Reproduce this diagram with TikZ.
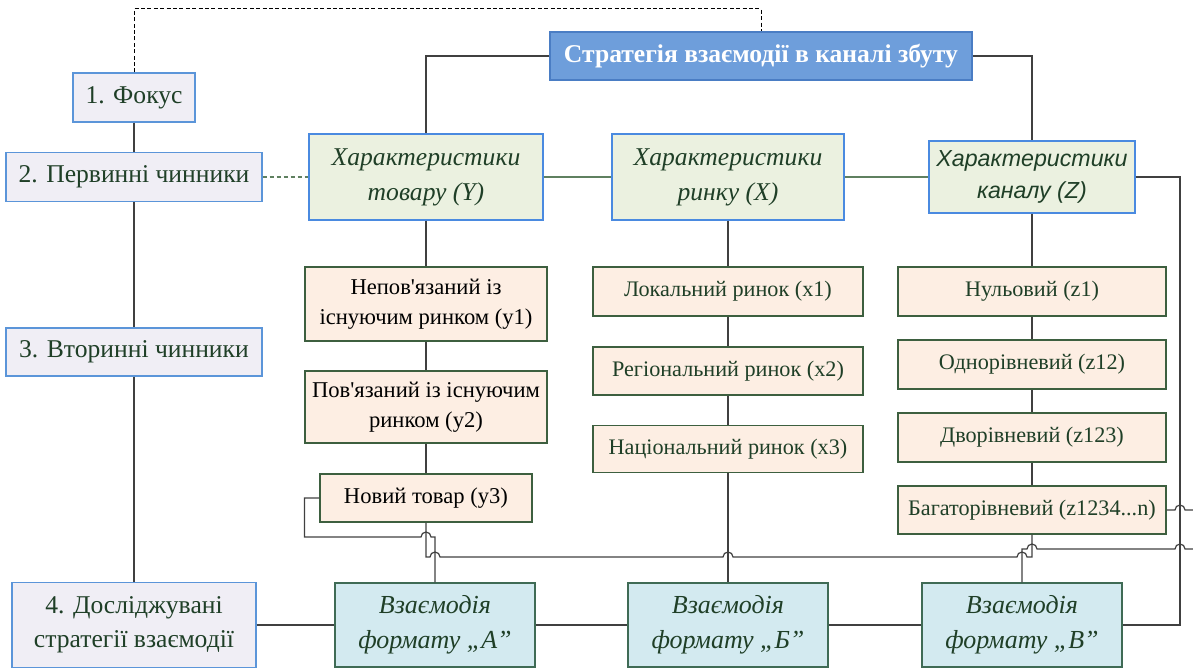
\documentclass[tikz,border=0pt]{standalone}
\usepackage{fontspec}
\setmainfont{Liberation Serif}
\newfontfamily\chanfont{Liberation Sans}
\usetikzlibrary{positioning}
\definecolor{titlefill}{HTML}{6E9EDB}
\definecolor{titledraw}{HTML}{4A7DC4}
\definecolor{lvlfill}{HTML}{F0EEF5}
\definecolor{lvldraw}{HTML}{5B95D9}
\definecolor{charfill}{HTML}{EBF1E0}
\definecolor{chardraw}{HTML}{4A8AE0}
\definecolor{subfill}{HTML}{FDEEE3}
\definecolor{subdraw}{HTML}{3D5F3F}
\definecolor{stratfill}{HTML}{D3EAF0}
\definecolor{stratdraw}{HTML}{3F6B55}
\definecolor{txtgreen}{HTML}{1F3F27}
\definecolor{linegray}{HTML}{404040}
\definecolor{linegreen}{HTML}{5F8060}

\begin{document}
\begin{tikzpicture}[x=0.5pt,y=-0.5pt,
  box/.style={draw, line width=0.6pt, align=center, inner sep=1pt, text=txtgreen},
  topbox/.style={box, draw=titledraw, fill=titlefill, text=white, font=\fontsize{12.8}{15}\selectfont\bfseries},
  lvlbox/.style={box, draw=lvldraw, fill=lvlfill, font=\fontsize{12.8}{17}\selectfont},
  charbox/.style={box, draw=chardraw, fill=charfill, font=\fontsize{12.8}{17.5}\selectfont\itshape},
  subbox/.style={box, draw=subdraw, fill=subfill, font=\fontsize{11.1}{15}\selectfont},
  stratbox/.style={box, draw=stratdraw, fill=stratfill, font=\fontsize{13}{17.5}\selectfont\itshape},
  link/.style={draw=linegray, line width=0.6pt},
  greenlink/.style={draw=linegreen, line width=0.6pt},
  greendash/.style={greenlink, dashed, dash pattern=on 2pt off 1.5pt},
  dashline/.style={draw=black, line width=0.5pt, dashed, dash pattern=on 2pt off 1.2pt}]
\useasboundingbox (0,0) rectangle (1193,668);

% title and levels
\node[topbox, minimum width=211pt, minimum height=24pt] (title) at (761,56) {Стратегія взаємодії в каналі збуту};
\node[lvlbox, minimum width=61pt, minimum height=24.5pt] (focus) at (134,97.5) {1. Фокус};
\node[lvlbox, minimum width=128pt, minimum height=24.5pt] (prim) at (134,177) {2. Первинні чинники};
\node[lvlbox, minimum width=128pt, minimum height=24pt] (sec) at (134,352) {3. Вторинні чинники};
\node[lvlbox, minimum width=122pt, minimum height=42.5pt] (study) at (134,625) {4. Досліджувані\\стратегії взаємодії};

% primary factors
\node[charbox, minimum width=117pt, minimum height=43pt] (prod) at (426,177) {Характеристики\\товару (Y)};
\node[charbox, minimum width=116pt, minimum height=43pt] (mkt) at (728,177) {Характеристики\\ринку (X)};
\node[charbox, minimum width=103pt, minimum height=36pt, font=\fontsize{11.6}{16}\selectfont\chanfont\itshape] (chan) at (1032,177) {Характеристики\\каналу (Z)};

% secondary factors
\node[subbox, minimum width=121pt, minimum height=37pt, text=black, font=\fontsize{11.3}{15}\selectfont] (y1) at (426,304) {Непов\textquotesingle язаний із\\існуючим ринком (y1)};
\node[subbox, minimum width=121pt, minimum height=36pt, text=black, font=\fontsize{11.3}{15}\selectfont] (y2) at (426,407) {Пов\textquotesingle язаний із існуючим\\ринком (y2)};
\node[subbox, minimum width=106pt, minimum height=24pt, text=black, font=\fontsize{11.3}{15}\selectfont] (y3) at (426,498) {Новий товар (y3)};
\node[subbox, minimum width=135pt, minimum height=24.5pt] (x1) at (728,291.5) {Локальний ринок (x1)};
\node[subbox, minimum width=135pt, minimum height=24pt] (x2) at (728,371) {Регіональний ринок (x2)};
\node[subbox, minimum width=135pt, minimum height=23.5pt] (x3) at (728,449) {Національний ринок (x3)};
\node[subbox, minimum width=134pt, minimum height=24.5pt] (z1) at (1032,291.5) {Нульовий (z1)};
\node[subbox, minimum width=134pt, minimum height=24.5pt] (z2) at (1032,364.5) {Однорівневий (z12)};
\node[subbox, minimum width=134pt, minimum height=24.5pt] (z3) at (1032,437.5) {Дворівневий (z123)};
\node[subbox, minimum width=134pt, minimum height=24pt] (z4) at (1032,510) {Багаторівневий (z1234...n)};

% strategies
\node[stratbox, minimum width=100pt, minimum height=42pt] (fa) at (435,625) {Взаємодія\\формату „А”};
\node[stratbox, minimum width=100pt, minimum height=42pt] (fb) at (728,625) {Взаємодія\\формату „Б”};
\node[stratbox, minimum width=100pt, minimum height=42pt] (fc) at (1022,625) {Взаємодія\\формату „В”};

\coordinate (dtop) at (0,9);
\coordinate (rbus) at (1180,625);
\coordinate (hopA) at (421,537);
\coordinate (qedge) at (1193,549);
\coordinate (redge) at (1193,510);

% connectors
\draw[dashline] (focus.north) -- (focus.north |- dtop) -| (title.north);
\draw[link] (title.west) -| (prod.north);
\draw[link] (title.east) -| (chan.north);
\draw[link] (focus.south) -- (prim.north);
\draw[link] (prim.south) -- (sec.north);
\draw[link] (sec.south) -- (study.north);
\draw[greendash] (prim.east) -- (prod.west);
\draw[greenlink] (prod.east) -- (mkt.west);
\draw[greenlink] (mkt.east) -- (chan.west);
\foreach \a/\b in {prod/y1, y1/y2, y2/y3, mkt/x1, x1/x2, x2/x3, x3/fb, chan/z1, z1/z2, z2/z3, z3/z4}
  \draw[link] (\a.south) -- (\b.north);
\draw[link] (study.east) -- (fa.west);
\draw[link] (fa.east) -- (fb.west);
\draw[link] (fb.east) -- (fc.west);
\draw[link] (chan.east) -| (rbus) -- (fc.east);

% crossings with hops
\draw[link] (y3.west) -- ++(-15,0) |- (hopA) arc[start angle=180,end angle=360,radius=5] -| (fa.north);
\draw[link] (y3.south) |- (430,557) arc[start angle=180,end angle=360,radius=5]
  -- (723,557) arc[start angle=180,end angle=360,radius=5]
  -- (1017,557) arc[start angle=180,end angle=360,radius=5] -| (z4.south);
\draw[link] (qedge) -- (1185,549) arc[start angle=0,end angle=-180,radius=5]
  -- (1037,549) arc[start angle=0,end angle=-180,radius=5] -| (fc.north);
\draw[link] (z4.east) -- (1175,510) arc[start angle=180,end angle=360,radius=5] -- (redge);
\end{tikzpicture}
\end{document}
